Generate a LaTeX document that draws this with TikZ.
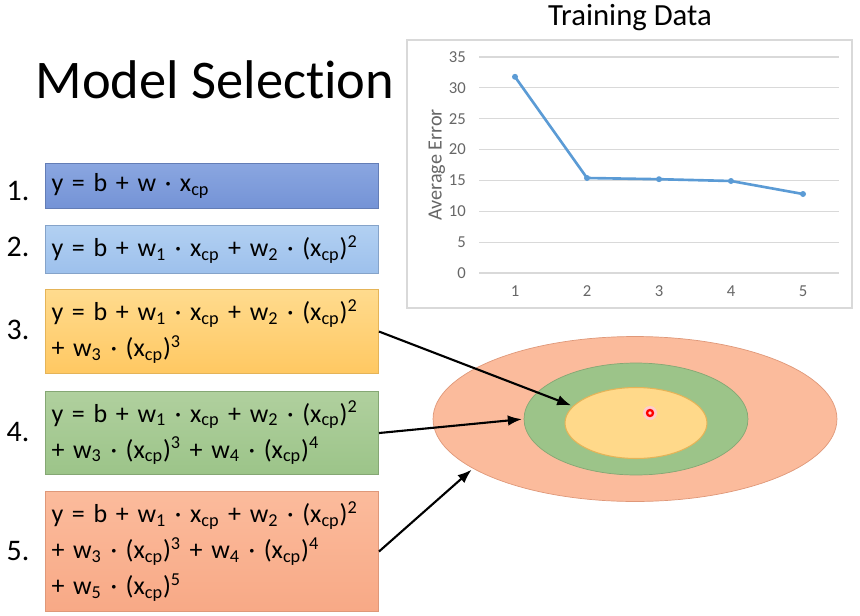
\documentclass[tikz,border=0pt]{standalone}
\usepackage{fontspec}
\setmainfont{Carlito}
\usepackage{xcolor}
\usepackage{tikz}
\usetikzlibrary{arrows.meta}
\usetikzlibrary{calc}
\usetikzlibrary{positioning}
\usetikzlibrary{shapes.geometric}

\definecolor{blueA}{HTML}{8AA6E0}
\definecolor{blueB}{HTML}{7493D6}
\definecolor{skyA}{HTML}{B2D0F2}
\definecolor{skyB}{HTML}{9DC0EC}
\definecolor{sunA}{HTML}{FFDB8E}
\definecolor{sunB}{HTML}{FFC862}
\definecolor{leafA}{HTML}{B0D09E}
\definecolor{leafB}{HTML}{9CC489}
\definecolor{peachA}{HTML}{FBBB9C}
\definecolor{peachB}{HTML}{F8A986}
\definecolor{errblue}{HTML}{5B9BD5}

\newcommand{\xcp}{x\textsubscript{cp}}
\newcommand{\wi}[1]{w\textsubscript{#1}}
\newcommand{\pw}[1]{(\xcp)\textsuperscript{#1}}

\begin{document}
\begin{tikzpicture}[x=0.02cm, y=-0.02cm,
    eqbox/.style={rectangle, anchor=north west, minimum width=6.66cm,
      text width=6.42cm, inner xsep=0.12cm, align=left,
      font=\fontsize{14.8}{20.5}\selectfont, line width=0.6pt},
    numlabel/.style={font=\fontsize{17}{20}\selectfont},
    ticklabel/.style={font=\fontsize{9.5}{11}\selectfont, text=black!60},
    gridline/.style={draw=black!15, line width=0.6pt},
    pick/.style={-{Latex[length=8pt, width=6pt]}, line width=1.2pt, shorten >=1pt}]

    \useasboundingbox (0,0) rectangle (860,616);

    \node [font=\fontsize{31}{38}\selectfont\addfontfeatures{Ligatures=CommonOff}]
      (title) at (215,80) {Model Selection};

    % the five models
    \node [eqbox, top color=blueA, bottom color=blueB, draw=blueB!85!black,
      minimum height=0.9cm] (m1) at (45,163)
      {y = b + w · \xcp};
    \node [eqbox, top color=skyA, bottom color=skyB, draw=skyB!85!black,
      minimum height=0.96cm] (m2) at (45,225)
      {y = b + \wi{1} · \xcp{} + \wi{2} · \pw{2}};
    \node [eqbox, top color=sunA, bottom color=sunB, draw=sunB!90!black,
      minimum height=1.68cm] (m3) at (45,289)
      {y = b + \wi{1} · \xcp{} + \wi{2} · \pw{2}\\
       + \wi{3} · \pw{3}};
    \node [eqbox, top color=leafA, bottom color=leafB, draw=leafB!85!black,
      minimum height=1.66cm] (m4) at (45,391)
      {y = b + \wi{1} · \xcp{} + \wi{2} · \pw{2}\\
       + \wi{3} · \pw{3} + \wi{4} · \pw{4}};
    \node [eqbox, top color=peachA, bottom color=peachB, draw=peachB!90!black,
      minimum height=2.4cm] (m5) at (45,491)
      {y = b + \wi{1} · \xcp{} + \wi{2} · \pw{2}\\
       + \wi{3} · \pw{3} + \wi{4} · \pw{4}\\
       + \wi{5} · \pw{5}};

    \node [numlabel] (n1) at (18,191) {1.};
    \node [numlabel] (n2) at (18,247) {2.};
    \node [numlabel] (n3) at (18,330) {3.};
    \node [numlabel] (n4) at (18,432) {4.};
    \node [numlabel] (n5) at (18,551) {5.};

    % training error chart
    \node [font=\fontsize{17.5}{21}\selectfont] (charttitle) at (630,18) {Training Data};
    \draw [draw=black!15, line width=0.8pt] (407,40) rectangle (852,308);
    \foreach \v in {0,5,...,35} {
      \draw [gridline] (479,{273-6.171*\v}) -- (839,{273-6.171*\v});
      \node [ticklabel, anchor=east] at (472,{273-6.171*\v}) {\v};
    }
    \foreach \i in {1,...,5}
      \node [ticklabel] at ({515+72*(\i-1)},291) {\i};
    \node [ticklabel, font=\fontsize{11.5}{13}\selectfont, rotate=90] (ylabel)
      at (437,165) {Average Error};

    \draw [errblue, line width=1.5pt, line join=round]
      (515,76.8) -- (587,178.0) -- (659,179.2) -- (731,181.0) -- (803,194.0);
    \foreach \p in {(515,76.8),(587,178.0),(659,179.2),(731,181.0),(803,194.0)}
      \fill [errblue] \p circle (3);

    % model space
    \node [ellipse, minimum width=8.08cm, minimum height=3.3cm, inner sep=0pt,
      fill=peachA, draw=peachB!90!black, line width=0.4pt] (outer) at (635,419) {};
    \node [ellipse, minimum width=4.48cm, minimum height=2.24cm, inner sep=0pt,
      fill=leafB, draw=leafB!85!black, line width=0.4pt] (middle) at (636,419) {};
    \node [ellipse, minimum width=2.84cm, minimum height=1.42cm, inner sep=0pt,
      fill=sunA!90!sunB, draw=sunB!90!black, line width=0.6pt] (inner) at (636,423) {};

    \fill [red!20] (650,413) circle (7);
    \draw [red, line width=1.3pt] (650,413) circle (3);

    \draw [pick] (m3.east) -- (inner.165);
    \draw [pick] (m4.east) -- (middle.west);
    \draw [pick] (m5.east) -- (outer.197);

\end{tikzpicture}
\end{document}
